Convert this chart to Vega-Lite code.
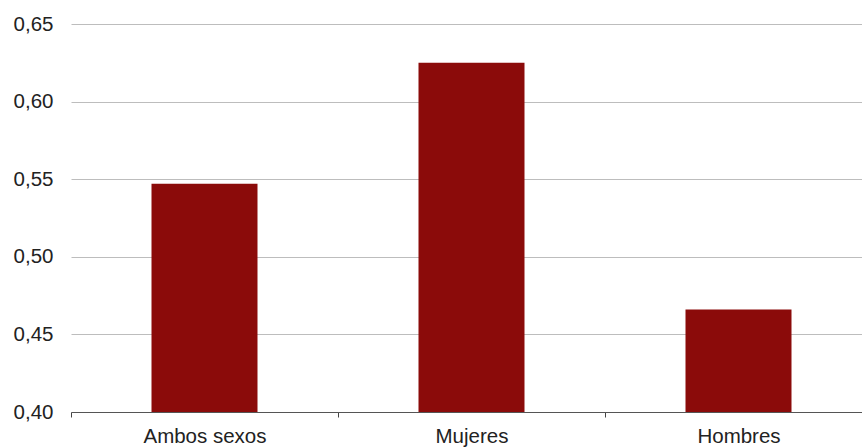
{
  "$schema": "https://vega.github.io/schema/vega-lite/v6.json",
  "width": 801,
  "height": 388,
  "autosize": {"type": "none"},
  "padding": {"left": 71, "top": 24, "right": 0, "bottom": 35},
  "background": "white",
  "config": {"view": {"stroke": null}, "font": "Liberation Sans"},
  "data": {"values": [
    {"grupo": "Ambos sexos", "valor": 0.547},
    {"grupo": "Mujeres", "valor": 0.625},
    {"grupo": "Hombres", "valor": 0.466}
  ]},
  "mark": {"type": "bar", "color": "#8b0b0a", "clip": true, "width": {"band": 0.397}},
  "encoding": {
    "x": {
      "field": "grupo", "type": "nominal", "sort": null, "title": null,
      "scale": {"paddingInner": 0, "paddingOuter": 0},
      "axis": {
        "labelAngle": 0, "labelFontSize": 20.5, "labelColor": "#222",
        "labelFont": "Liberation Sans",
        "domainColor": "#555", "ticks": true, "tickColor": "#444", "tickSize": 5, "tickWidth": 1,
        "tickBand": "extent", "labelPadding": 9, "grid": false
      }
    },
    "y": {
      "field": "valor", "type": "quantitative", "title": null,
      "scale": {"domain": [0.4, 0.65], "zero": false, "nice": false},
      "axis": {
        "values": [0.4, 0.45, 0.5, 0.55, 0.6, 0.65],
        "labelExpr": "replace(format(datum.value, '.2f'), '.', ',')",
        "labelFontSize": 20.5, "labelColor": "#222", "labelFont": "Liberation Sans",
        "domain": false, "ticks": false, "labelPadding": 18,
        "gridColor": "#bdbdbd", "gridWidth": 1
      }
    }
  }
}
